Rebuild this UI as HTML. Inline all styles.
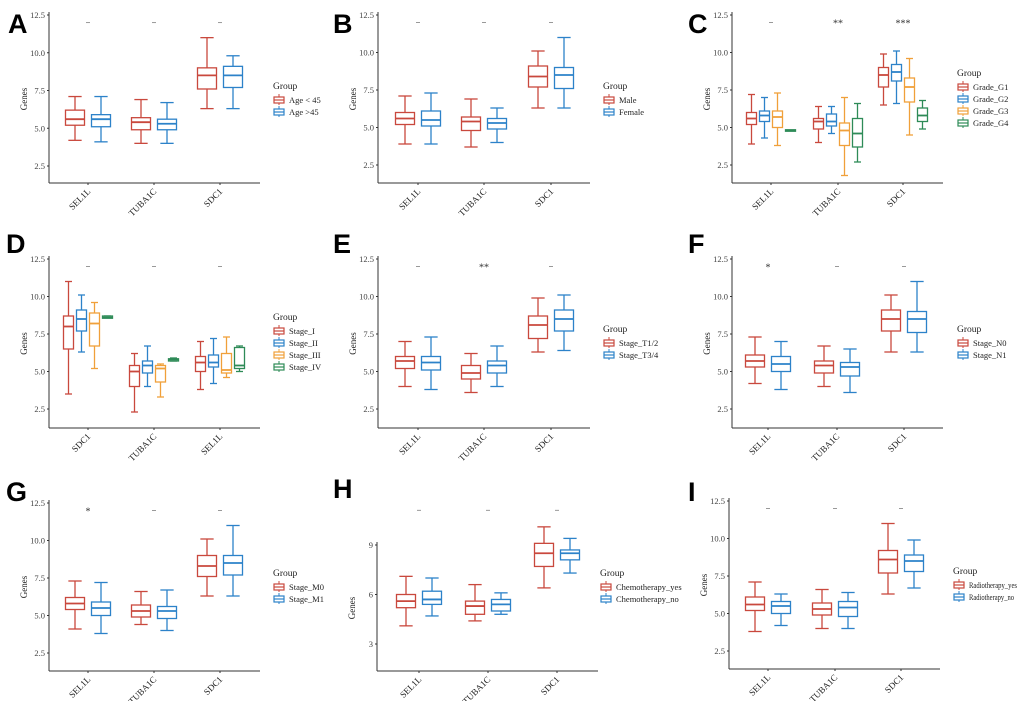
<!DOCTYPE html>
<html><head><meta charset="utf-8">
<style>
html,body{margin:0;padding:0;background:#fff;}
svg{display:block;}
text{font-family:"Liberation Serif",serif;}
.lt{font-family:"Liberation Sans",Arial,sans-serif;font-weight:bold;font-size:27px;fill:#000;}
</style></head>
<body>
<svg id="fig" width="1020" height="701" viewBox="0 0 1020 701" xmlns="http://www.w3.org/2000/svg"></svg>
<script>
// ---- data: [min, q1, median, q3, max] per category per group ----
const genes3 = ["SEL1L","TUBA1C","SDC1"];
const genesD = ["SDC1","TUBA1C","SEL1L"];
const yTicks = [2.5,5.0,7.5,10.0,12.5];
const yTicksLabels = ["2.5","5.0","7.5","10.0","12.5"];
const yTicksH = [3,6,9];
const yTicksHLabels = ["3","6","9"];

const A_groups = ["Age < 45","Age >45"];
const A_g1 = [[4.2,5.2,5.6,6.2,7.1],[4.0,4.9,5.4,5.7,6.9],[6.3,7.6,8.5,9.0,11.0]];
const A_g2 = [[4.1,5.1,5.6,5.9,7.1],[4.0,4.9,5.3,5.6,6.7],[6.3,7.7,8.5,9.1,9.8]];
const A_sig = ["-","-","-"];

const B_groups = ["Male","Female"];
const B_g1 = [[3.9,5.2,5.6,6.0,7.1],[3.7,4.8,5.4,5.7,6.9],[6.3,7.7,8.4,9.1,10.1]];
const B_g2 = [[3.9,5.1,5.5,6.1,7.3],[4.0,4.9,5.3,5.6,6.3],[6.3,7.6,8.5,9.0,11.0]];
const B_sig = ["-","-","-"];

const C_groups = ["Grade_G1","Grade_G2","Grade_G3","Grade_G4"];
const C_g1 = [[3.9,5.2,5.6,6.0,7.2],[4.0,4.9,5.4,5.6,6.4],[6.5,7.7,8.5,9.0,9.9]];
const C_g2 = [[4.3,5.4,5.8,6.1,7.0],[4.6,5.1,5.4,5.9,6.4],[6.6,8.1,8.7,9.2,10.1]];
const C_g3 = [[3.8,5.0,5.7,6.1,7.3],[1.8,3.8,4.8,5.3,7.0],[4.5,6.7,7.7,8.3,9.6]];
const C_g4 = [[4.8,4.75,4.8,4.85,4.8],[2.7,3.7,4.6,5.6,6.6],[4.9,5.4,5.8,6.3,6.8]];
const C_sig = ["-","**","***"];

const D_groups = ["Stage_I","Stage_II","Stage_III","Stage_IV"];
const D_g1 = [[3.5,6.5,8.0,8.7,11.0],[2.3,4.0,5.0,5.4,6.2],[3.8,5.0,5.6,6.0,7.0]];
const D_g2 = [[6.3,7.7,8.5,9.1,10.1],[4.0,4.9,5.4,5.7,6.7],[4.2,5.3,5.6,6.1,7.2]];
const D_g3 = [[5.2,6.7,8.2,8.9,9.6],[3.3,4.3,5.2,5.4,5.5],[4.6,4.9,5.1,6.2,7.3]];
const D_g4 = [[8.6,8.55,8.6,8.7,8.7],[5.7,5.7,5.8,5.85,5.9],[5.0,5.2,5.4,6.6,6.7]];
const D_sig = ["-","-","-"];

const E_groups = ["Stage_T1/2","Stage_T3/4"];
const E_g1 = [[4.0,5.2,5.7,6.0,7.0],[3.6,4.5,4.9,5.4,6.2],[6.3,7.2,8.1,8.7,9.9]];
const E_g2 = [[3.8,5.1,5.6,6.0,7.3],[4.0,4.9,5.4,5.7,6.7],[6.4,7.7,8.5,9.1,10.1]];
const E_sig = ["-","**","-"];

const F_groups = ["Stage_N0","Stage_N1"];
const F_g1 = [[4.2,5.3,5.7,6.1,7.3],[4.0,4.9,5.4,5.7,6.7],[6.3,7.7,8.5,9.1,10.1]];
const F_g2 = [[3.8,5.0,5.5,6.0,7.0],[3.6,4.7,5.3,5.6,6.5],[6.3,7.6,8.5,9.0,11.0]];
const F_sig = ["*","-","-"];

const G_groups = ["Stage_M0","Stage_M1"];
const G_g1 = [[4.1,5.4,5.8,6.2,7.3],[4.4,4.9,5.3,5.7,6.6],[6.3,7.6,8.3,9.0,10.1]];
const G_g2 = [[3.8,5.0,5.5,5.9,7.2],[4.0,4.8,5.3,5.6,6.7],[6.3,7.7,8.5,9.0,11.0]];
const G_sig = ["*","-","-"];

const H_groups = ["Chemotherapy_yes","Chemotherapy_no"];
const H_g1 = [[4.1,5.2,5.6,6.0,7.1],[4.4,4.8,5.3,5.6,6.6],[6.4,7.7,8.5,9.1,10.1]];
const H_g2 = [[4.7,5.4,5.7,6.2,7.0],[4.8,5.0,5.4,5.7,6.1],[7.3,8.1,8.5,8.7,9.4]];
const H_sig = ["-","-","-"];

const I_groups = ["Radiotherapy_yes","Radiotherapy_no"];
const I_g1 = [[3.8,5.2,5.6,6.1,7.1],[4.0,4.9,5.3,5.7,6.6],[6.3,7.7,8.6,9.2,11.0]];
const I_g2 = [[4.2,5.0,5.5,5.8,6.3],[4.0,4.8,5.4,5.8,6.4],[6.7,7.8,8.5,8.9,9.9]];
const I_sig = ["-","-","-"];

const COLORS = ["#c9483d","#2c82c9","#f0a03a","#2e8b57"];

const svg = document.getElementById('fig');
const NS = "http://www.w3.org/2000/svg";
function mk(tag, attrs, parent){
  const e = document.createElementNS(NS, tag);
  for (const k in attrs) e.setAttribute(k, attrs[k]);
  (parent||svg).appendChild(e);
  return e;
}

const panels = [
  {id:"a",letter:"A",lx:8,ly:33,ax:49,rx:260,v1:12.5,p1:15,v2:2.5,p2:166,by:183,cats:[88,154,220],names:genes3,groups:A_groups,data:[A_g1,A_g2],sig:A_sig,leg:[273,89],ticks:yTicks,tl:yTicksLabels,sigV:12.0},
  {id:"b",letter:"B",lx:333,ly:33,ax:378,rx:590,v1:12.5,p1:15,v2:2.5,p2:165,by:183,cats:[418,484,551],names:genes3,groups:B_groups,data:[B_g1,B_g2],sig:B_sig,leg:[603,89],ticks:yTicks,tl:yTicksLabels,sigV:12.0},
  {id:"c",letter:"C",lx:688,ly:33,ax:732,rx:943,v1:12.5,p1:15,v2:2.5,p2:165,by:183,cats:[771,838,903],names:genes3,groups:C_groups,data:[C_g1,C_g2,C_g3,C_g4],sig:C_sig,leg:[957,76],ticks:yTicks,tl:yTicksLabels,sigV:12.0},
  {id:"d",letter:"D",lx:6,ly:253,ax:49,rx:260,v1:12.5,p1:259,v2:2.5,p2:409,by:428,cats:[88,154,220],names:genesD,groups:D_groups,data:[D_g1,D_g2,D_g3,D_g4],sig:D_sig,leg:[273,320],ticks:yTicks,tl:yTicksLabels,sigV:12.0},
  {id:"e",letter:"E",lx:333,ly:253,ax:378,rx:590,v1:12.5,p1:259,v2:2.5,p2:409,by:428,cats:[418,484,551],names:genes3,groups:E_groups,data:[E_g1,E_g2],sig:E_sig,leg:[603,332],ticks:yTicks,tl:yTicksLabels,sigV:12.0},
  {id:"f",letter:"F",lx:688,ly:253,ax:732,rx:943,v1:12.5,p1:259,v2:2.5,p2:409,by:428,cats:[768,837,904],names:genes3,groups:F_groups,data:[F_g1,F_g2],sig:F_sig,leg:[957,332],ticks:yTicks,tl:yTicksLabels,sigV:12.0},
  {id:"g",letter:"G",lx:6,ly:501,ax:49,rx:260,v1:12.5,p1:503,v2:2.5,p2:653,by:671,cats:[88,154,220],names:genes3,groups:G_groups,data:[G_g1,G_g2],sig:G_sig,leg:[273,576],ticks:yTicks,tl:yTicksLabels,sigV:12.0},
  {id:"h",letter:"H",lx:333,ly:498,ax:377,rx:598,v1:9,p1:545,v2:3,p2:644,by:671,cats:[419,488,557],names:genes3,groups:H_groups,data:[H_g1,H_g2],sig:H_sig,leg:[600,576],ticks:yTicksH,tl:yTicksHLabels,sigV:11.1},
  {id:"i",letter:"I",lx:688,ly:501,ax:729,rx:940,v1:12.5,p1:501,v2:2.5,p2:651,by:669,cats:[768,835,901],names:genes3,groups:I_groups,data:[I_g1,I_g2],sig:I_sig,leg:[953,574],ticks:yTicks,tl:yTicksLabels,sigV:12.0,fit:48}
];

panels.forEach(P => {
  const g = mk('g', {});
  
  
  const y = v => P.p1 + (v - P.v1) * (P.p2 - P.p1) / (P.v2 - P.v1);
  const top = y(P.ticks[P.ticks.length-1]) - 3;
  const lt = mk('text', {x:P.lx, y:P.ly, class:'lt'}, g);
  lt.textContent = P.letter;
  
  
  const yax = mk('line', {x1:P.ax, y1:Math.min(top, P.p1-2), x2:P.ax, y2:P.by, stroke:'#333','stroke-width':1}, g);
  
  
  const xax = mk('line', {x1:P.ax, y1:P.by, x2:P.rx, y2:P.by, stroke:'#333','stroke-width':1}, g);
  
  
  P.ticks.forEach((t, i) => {
    const ty = y(t);
    mk('line', {x1:P.ax-2, y1:ty, x2:P.ax, y2:ty, stroke:'#333','stroke-width':1}, g);
    const tx = mk('text', {x:P.ax-4, y:ty+3, 'text-anchor':'end','font-size':8.5, fill:'#444'}, g);
    tx.textContent = P.tl[i];
    
    
  });
  const yl = mk('text', {x:0, y:0, 'text-anchor':'middle','font-size':9, fill:'#222', transform:`translate(${P.ax-22},${(P.p1+P.by)/2}) rotate(-90)`}, g);
  yl.textContent = 'Genes';
  
  

  const n = P.groups.length;
  const step = n === 2 ? 26 : 13;
  const bw = n === 2 ? 19 : 10;
  P.names.forEach((nm, ci) => {
    const cx = P.cats[ci];
    mk('line', {x1:cx, y1:P.by, x2:cx, y2:P.by+2, stroke:'#333'}, g);
    const xl = mk('text', {x:0, y:0, 'text-anchor':'end','font-size':9, fill:'#222', transform:`translate(${cx+3},${P.by+9}) rotate(-45)`}, g);
    xl.textContent = nm;
    
    
    const s = P.sig[ci];
    if (s === '-') {
      const sl = mk('line', {x1:cx-2, y1:y(P.sigV), x2:cx+2, y2:y(P.sigV), stroke:'#999','stroke-width':1}, g);
      
      
    } else {
      const st = mk('text', {x:cx, y:y(P.sigV)+4, 'text-anchor':'middle','font-size':10, fill:'#333'}, g);
      st.textContent = s;
      
      
    }
    P.data.forEach((series, gi) => {
      const st = series[ci];
      const bx = cx + (gi - (n-1)/2) * step;
      const col = COLORS[gi];
      const bg = mk('g', {stroke:col, 'stroke-width':1.3, fill:'none'}, g);
      
      
      const cap = bw * 0.35;
      mk('line', {x1:bx, y1:y(st[0]), x2:bx, y2:y(st[1])}, bg);
      mk('line', {x1:bx, y1:y(st[3]), x2:bx, y2:y(st[4])}, bg);
      mk('line', {x1:bx-cap, y1:y(st[0]), x2:bx+cap, y2:y(st[0])}, bg);
      mk('line', {x1:bx-cap, y1:y(st[4]), x2:bx+cap, y2:y(st[4])}, bg);
      mk('rect', {x:bx-bw/2, y:y(st[3]), width:bw, height:Math.max(1.5, y(st[1])-y(st[3])), fill:'#fff', 'fill-opacity':0.6}, bg);
      mk('line', {x1:bx-bw/2, y1:y(st[2]), x2:bx+bw/2, y2:y(st[2]), 'stroke-width':1.8}, bg);
    });
  });
  const lg = mk('g', {}, g);
  
  
  const gt = mk('text', {x:P.leg[0], y:P.leg[1], 'font-size':9.5, fill:'#222'}, lg);
  gt.textContent = 'Group';
  P.groups.forEach((gn, gi) => {
    const ly = P.leg[1] + 12 + gi*12;
    const e = mk('g', {}, lg);
    
    
    const col = COLORS[gi];
    mk('line', {x1:P.leg[0]+6, y1:ly-7, x2:P.leg[0]+6, y2:ly+4, stroke:col,'stroke-width':1}, e);
    mk('rect', {x:P.leg[0]+1, y:ly-4, width:10, height:6, fill:'#fff', stroke:col,'stroke-width':1.2}, e);
    mk('line', {x1:P.leg[0]+1, y1:ly-1, x2:P.leg[0]+11, y2:ly-1, stroke:col,'stroke-width':1.2}, e);
    const attrs = {x:P.leg[0]+16, y:ly+2, 'font-size':8.5, fill:'#222'};
    if (P.fit) { attrs.textLength = P.fit * gn.length / 16; attrs.lengthAdjust = 'spacingAndGlyphs'; }
    const t = mk('text', attrs, e);
    t.textContent = gn;
  });
});
</script>
</body></html>
